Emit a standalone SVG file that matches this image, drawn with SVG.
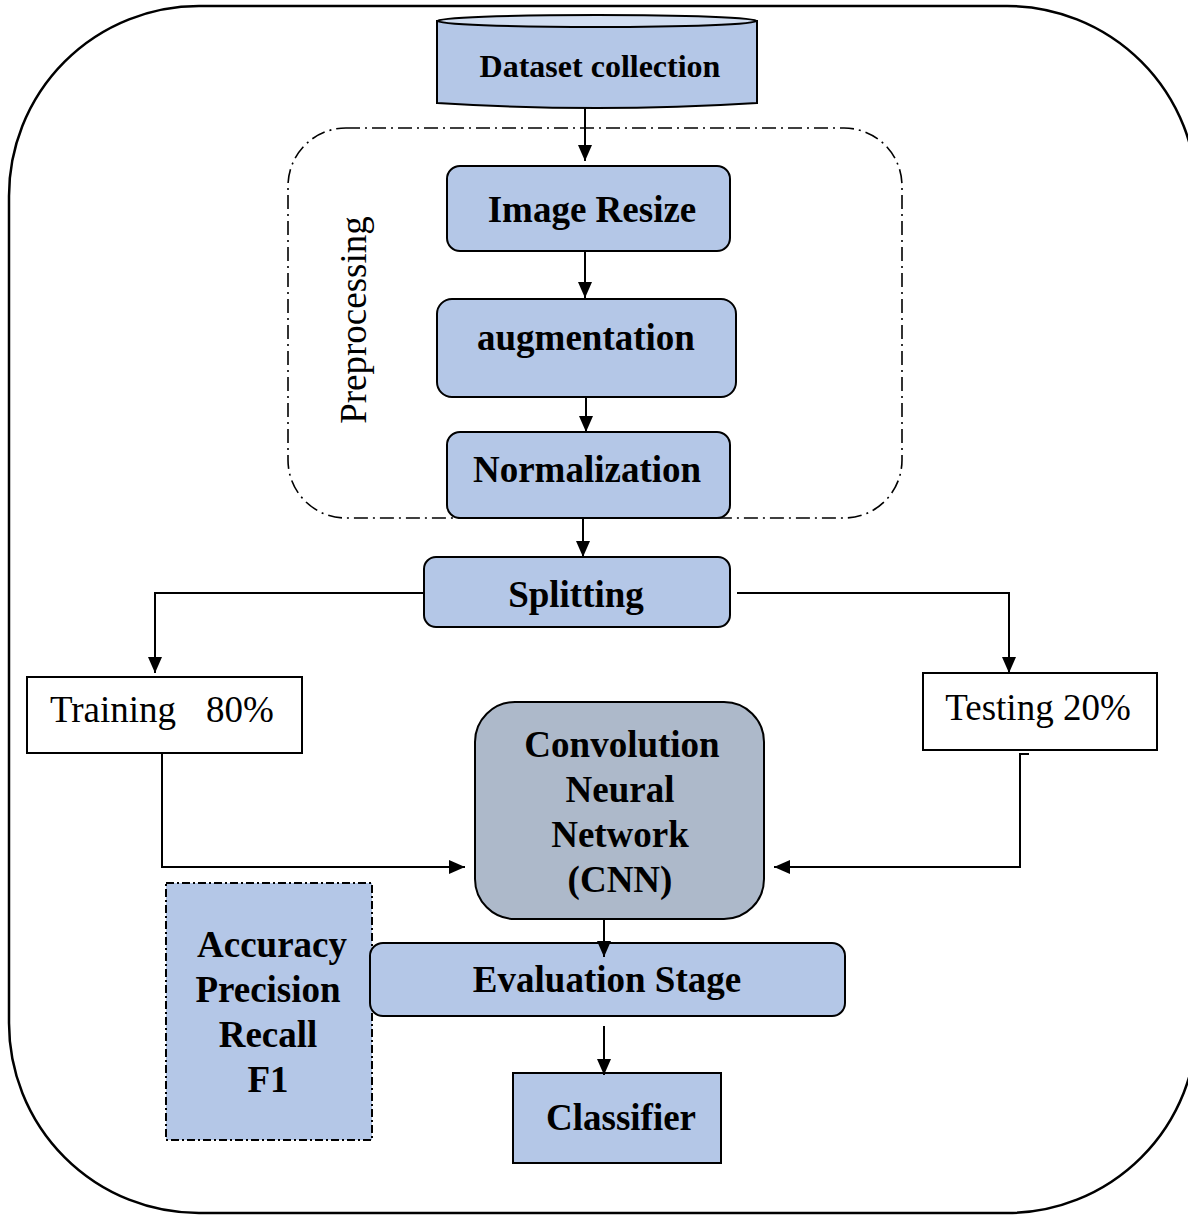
<svg xmlns="http://www.w3.org/2000/svg" width="1188" height="1215" viewBox="0 0 1188 1215">
<defs>
<marker id="ah" markerUnits="userSpaceOnUse" markerWidth="16" markerHeight="16" viewBox="0 0 16 16" refX="16" refY="8" orient="auto">
<path d="M0,1 L16,8 L0,15 Z" fill="#000"/>
</marker>
</defs>
<style>
.box{fill:#b4c7e7;stroke:#000;stroke-width:2}
.wbox{fill:#fff;stroke:#000;stroke-width:2}
.b{font-family:"Liberation Serif","Times New Roman",serif;font-weight:bold;font-size:37px;fill:#000;text-anchor:middle}
.r{font-family:"Liberation Serif","Times New Roman",serif;font-size:37px;fill:#000}
.c{fill:none;stroke:#000;stroke-width:2}
</style>
<rect id="frame" x="9" y="6" width="1188" height="1207" rx="190" ry="190" fill="#fff" stroke="#000" stroke-width="2.5"/>
<g id="preprocessing">
<rect x="288" y="128" width="614" height="390" rx="58" ry="58" fill="none" stroke="#000" stroke-width="1.6" stroke-dasharray="14 5 2 5"/>
<text class="r" transform="translate(366,320) rotate(-90)" text-anchor="middle">Preprocessing</text>
</g>
<g id="dataset">
<path d="M437,21 V103 Q597,113 757,103 V21 Z" class="box"/>
<ellipse cx="597" cy="21" rx="160" ry="6" fill="#d2def1" stroke="#000" stroke-width="2"/>
<text class="b" x="600" y="77" style="font-size:32px">Dataset collection</text>
</g>
<g id="resize">
<rect class="box" x="447" y="166" width="283" height="85" rx="13"/>
<text class="b" x="592" y="222">Image Resize</text>
</g>
<g id="augmentation">
<rect class="box" x="437" y="299" width="299" height="98" rx="15"/>
<text class="b" x="586" y="350">augmentation</text>
</g>
<g id="normalization">
<rect class="box" x="447" y="432" width="283" height="86" rx="13"/>
<text class="b" x="587" y="482">Normalization</text>
</g>
<g id="splitting">
<rect class="box" x="424" y="557" width="306" height="70" rx="12"/>
<text class="b" x="576" y="607">Splitting</text>
</g>
<g id="training">
<rect class="wbox" x="27" y="677" width="275" height="76"/>
<text class="r" x="50" y="722">Training</text>
<text class="r" x="206" y="722">80%</text>
</g>
<g id="testing">
<rect class="wbox" x="923" y="673" width="234" height="77"/>
<text class="r" x="1038" y="720" text-anchor="middle">Testing 20%</text>
</g>
<g id="cnn">
<rect x="475" y="702" width="289" height="217" rx="40" fill="#adb9ca" stroke="#000" stroke-width="2"/>
<text class="b" x="622" y="757">Convolution</text>
<text class="b" x="620" y="802">Neural</text>
<text class="b" x="620" y="847">Network</text>
<text class="b" x="620" y="892">(CNN)</text>
</g>
<g id="metrics">
<rect x="166" y="883" width="206" height="257" fill="#b4c7e7" stroke="#000" stroke-width="2" stroke-dasharray="8 3 2 3"/>
<text class="b" x="272" y="957">Accuracy</text>
<text class="b" x="268" y="1002">Precision</text>
<text class="b" x="268" y="1047">Recall</text>
<text class="b" x="268" y="1092">F1</text>
</g>
<g id="evaluation">
<rect class="box" x="370" y="943" width="475" height="73" rx="13"/>
<text class="b" x="607" y="992">Evaluation Stage</text>
</g>
<g id="classifier">
<rect class="box" x="513" y="1073" width="208" height="90"/>
<text class="b" x="621" y="1130">Classifier</text>
</g>
<g id="connectors">
<line class="c" x1="585" y1="108" x2="585" y2="161" marker-end="url(#ah)"/>
<line class="c" x1="585" y1="251" x2="585" y2="298" marker-end="url(#ah)"/>
<line class="c" x1="586" y1="397" x2="586" y2="432" marker-end="url(#ah)"/>
<line class="c" x1="583" y1="518" x2="583" y2="557" marker-end="url(#ah)"/>
<polyline class="c" points="424,593 155,593 155,673" marker-end="url(#ah)"/>
<polyline class="c" points="737,593 1009,593 1009,673" marker-end="url(#ah)"/>
<polyline class="c" points="162,753 162,867 465,867" marker-end="url(#ah)"/>
<polyline class="c" points="1029,754 1020,754 1020,867 774,867" marker-end="url(#ah)"/>
<line class="c" x1="604" y1="920" x2="604" y2="957" marker-end="url(#ah)"/>
<line class="c" x1="604" y1="1026" x2="604" y2="1075" marker-end="url(#ah)"/>
</g>
</svg>
